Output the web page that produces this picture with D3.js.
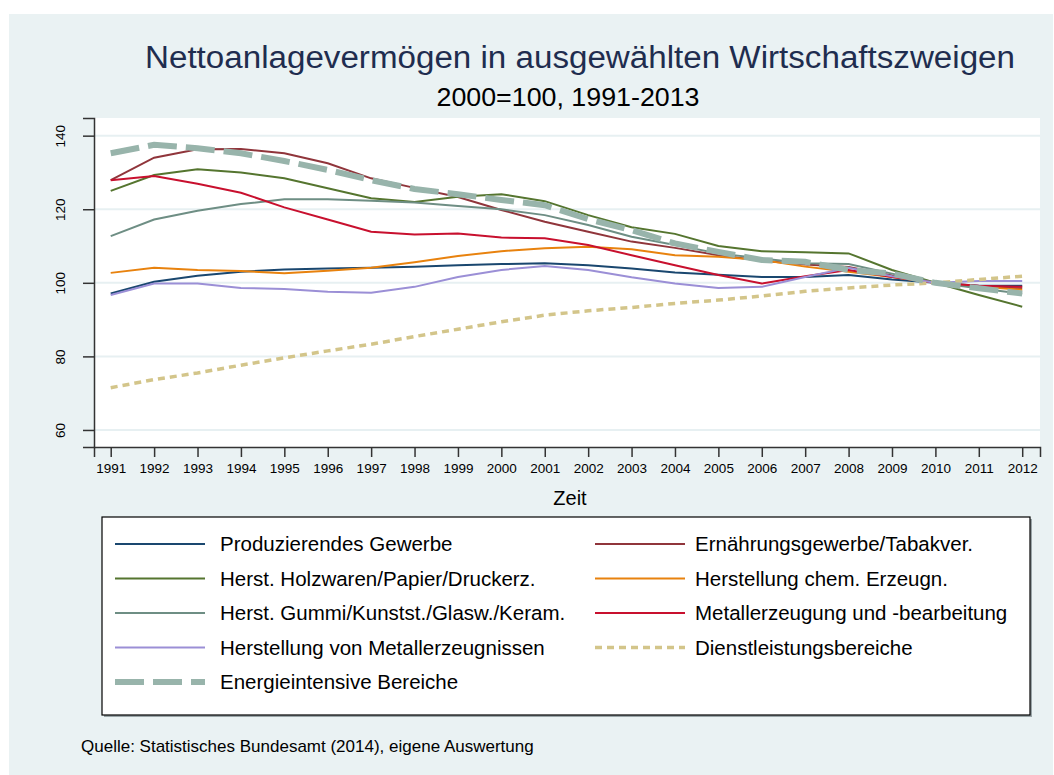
<!DOCTYPE html>
<html>
<head>
<meta charset="utf-8">
<script src="https://cdnjs.cloudflare.com/ajax/libs/d3/7.8.5/d3.min.js"></script>
<style>
  body { margin: 0; background: #ffffff; }
  svg { font-family: "Liberation Sans", Arial, sans-serif; display: block; }
</style>
</head>
<body>
<div id="chart"></div>
<script>
// Data
var years = [1991, 1992, 1993, 1994, 1995, 1996, 1997, 1998, 1999, 2000, 2001,
             2002, 2003, 2004, 2005, 2006, 2007, 2008, 2009, 2010, 2011, 2012];
var yTicks = [60, 80, 100, 120, 140];

var produzierendes = [97.1, 100.3, 101.9, 103.0, 103.6, 103.9, 104.1, 104.4, 104.8, 105.1, 105.3,
                      104.8, 103.9, 102.8, 102.2, 101.6, 101.6, 102.1, 100.9, 100, 99.2, 99.2];
var ernaehrung = [127.9, 134.0, 136.3, 136.4, 135.2, 132.5, 128.4, 125.8, 123.3, 119.8, 116.6,
                  113.9, 111.2, 109.5, 107.5, 106.0, 105.0, 104.3, 102.0, 100, 98.8, 98.5];
var holzwaren = [125.0, 129.3, 130.9, 130.0, 128.4, 125.7, 123.0, 122.0, 123.4, 124.1, 122.2,
                 118.4, 115.1, 113.3, 110.0, 108.6, 108.3, 108.0, 103.5, 100, 96.7, 93.5];
var chemie = [102.7, 104.1, 103.5, 103.2, 102.6, 103.3, 104.1, 105.6, 107.3, 108.6, 109.4,
              109.8, 109.1, 107.5, 107.1, 106.2, 104.4, 103.0, 101.6, 100, 99.0, 98.1];
var gummi = [112.7, 117.2, 119.6, 121.4, 122.7, 122.7, 122.3, 121.8, 120.9, 120.0, 118.4,
             115.7, 112.5, 110.3, 108.0, 106.6, 105.3, 105.1, 102.5, 100, 98.5, 97.0];
var metallerzeugung = [127.9, 129.0, 126.9, 124.5, 120.5, 117.2, 113.9, 113.1, 113.4, 112.3, 112.1,
                       110.3, 107.5, 104.8, 102.1, 99.8, 101.8, 103.5, 101.6, 100, 99.2, 98.9];
var metallerzeugnisse = [96.7, 99.8, 99.8, 98.6, 98.3, 97.6, 97.3, 98.9, 101.6, 103.5, 104.6,
                         103.5, 101.5, 99.8, 98.6, 98.9, 101.6, 104.1, 101.8, 100, 100.5, 100.5];
var dienstleistung = [71.5, 73.7, 75.5, 77.6, 79.6, 81.5, 83.3, 85.4, 87.4, 89.4, 91.2,
                      92.4, 93.3, 94.4, 95.3, 96.4, 97.7, 98.6, 99.4, 100, 100.9, 101.8];
var energie = [135.2, 137.5, 136.6, 135.2, 133.1, 130.7, 127.9, 125.5, 124.1, 122.5, 121.1,
               117.3, 114.3, 110.7, 108.4, 106.2, 105.7, 103.5, 102.5, 100, 98.5, 97.1];

var seriesNames = ["Produzierendes Gewerbe", "Ernährungsgewerbe/Tabakver.",
                   "Herst. Holzwaren/Papier/Druckerz.", "Herstellung chem. Erzeugn.",
                   "Herst. Gummi/Kunstst./Glasw./Keram.", "Metallerzeugung und -bearbeitung",
                   "Herstellung von Metallerzeugnissen", "Dienstleistungsbereiche",
                   "Energieintensive Bereiche"];
var seriesValues = [produzierendes, ernaehrung, holzwaren, chemie, gummi,
                    metallerzeugung, metallerzeugnisse, dienstleistung, energie];

// styles (stata s2color-ish)
var lineColors = ["#1a476f", "#90353b", "#55752f", "#e8820e", "#6e8e84",
                  "#c8102e", "#9b8fd6", "#d3c58a", "#98b4ab"];
var lineWidths = [2, 2, 2, 2, 2, 2, 2, 3.5, 6];
var lineDash = [null, null, null, null, null, null, null, "7,5", "29,9"];

var W = 1054, H = 775;
var plot = {left: 94, top: 118, right: 1040, bottom: 447};

var svg = d3.select("#chart").append("svg")
    .attr("width", W)
    .attr("height", H);

// outer graph region
svg.append("rect")
    .attr("x", 9).attr("y", 14)
    .attr("width", 1044).attr("height", H - 14)
    .style("fill", "#eaf2f3");

// plot region
svg.append("rect")
    .attr("x", plot.left).attr("y", plot.top)
    .attr("width", plot.right - plot.left).attr("height", plot.bottom - plot.top)
    .style("fill", "#ffffff");

var xScale = d3.scaleLinear()
    .domain([1990.615, 2012.41])
    .range([plot.left, plot.right]);

var yScale = d3.scaleLinear()
    .domain([55.37, 144.8])
    .range([plot.bottom, plot.top]);

// grid lines
svg.append("g")
  .selectAll("line")
  .data(yTicks)
  .enter().append("line")
    .attr("x1", plot.left).attr("x2", plot.right)
    .attr("y1", function(d) { return yScale(d); })
    .attr("y2", function(d) { return yScale(d); })
    .style("stroke", "#e7f0f2")
    .style("stroke-width", 2);

// titles
svg.append("text")
    .attr("x", 580).attr("y", 68)
    .attr("text-anchor", "middle")
    .attr("textLength", 870)
    .attr("lengthAdjust", "spacingAndGlyphs")
    .style("font-size", "31px")
    .style("fill", "#1f2d4f")
    .text("Nettoanlagevermögen in ausgewählten Wirtschaftszweigen");

svg.append("text")
    .attr("x", 568).attr("y", 106)
    .attr("text-anchor", "middle")
    .attr("textLength", 263)
    .attr("lengthAdjust", "spacingAndGlyphs")
    .style("font-size", "25px")
    .style("fill", "#000")
    .text("2000=100, 1991-2013");

// axes
var xAxis = svg.append("g")
    .attr("transform", "translate(0," + plot.bottom + ")")
    .call(d3.axisBottom(xScale)
          .tickValues(years)
          .tickFormat(d3.format("d"))
          .tickSize(10)
          .tickPadding(6));

var yAxis = svg.append("g")
    .attr("transform", "translate(" + plot.left + ",0)")
    .call(d3.axisLeft(yScale)
          .tickValues(yTicks)
          .tickSize(11)
          .tickPadding(0));

[xAxis, yAxis].forEach(function(ax) {
  ax.select(".domain").style("stroke", "#333").style("stroke-width", 1.5);
  ax.selectAll(".tick line").style("stroke", "#333").style("stroke-width", 1.5);
  ax.selectAll("text").style("font-size", "13.5px").style("fill", "#000")
    .style("font-family", "Liberation Sans, Arial, sans-serif");
});

// rotate y labels like stata
yAxis.selectAll(".tick text")
    .attr("x", 0).attr("dy", 0)
    .attr("transform", "translate(-29,0) rotate(-90)")
    .style("text-anchor", "middle");

svg.append("text")
    .attr("x", 570).attr("y", 505)
    .attr("text-anchor", "middle")
    .style("font-size", "20px")
    .text("Zeit");

// lines
var line_generator = d3.line()
    .x(function(d) { return xScale(d.x); })
    .y(function(d) { return yScale(d.y); });

seriesValues.forEach(function(vals, i) {
  var pts = vals.map(function(v, j) { return {x: years[j], y: v}; });
  svg.append("path")
    .datum(pts)
    .attr("d", line_generator)
    .style("fill", "none")
    .style("stroke", lineColors[i])
    .style("stroke-width", lineWidths[i])
    .style("stroke-dasharray", lineDash[i]);
});

// legend box
var lg = {x: 102, y: 517, w: 928, h: 198};
svg.append("rect")
    .attr("x", lg.x + 2).attr("y", lg.y + 2)
    .attr("width", lg.w).attr("height", lg.h)
    .style("fill", "#9aa5a8");
svg.append("rect")
    .attr("x", lg.x).attr("y", lg.y)
    .attr("width", lg.w).attr("height", lg.h)
    .style("fill", "#fff")
    .style("stroke", "#000")
    .style("stroke-width", 1.2);

var rowY = [544, 578.5, 613, 647.5, 682];
var colX = [115, 595];

seriesNames.forEach(function(name, i) {
  var col = i % 2, row = Math.floor(i / 2);
  var lx = colX[col], ly = rowY[row];
  svg.append("line")
    .attr("x1", lx).attr("x2", lx + 90)
    .attr("y1", ly).attr("y2", ly)
    .style("stroke", lineColors[i])
    .style("stroke-width", lineWidths[i])
    .style("stroke-dasharray", lineDash[i]);
  svg.append("text")
    .attr("x", lx + (col == 0 ? 105 : 100)).attr("y", ly + 7)
    .style("font-size", "20.5px")
    .text(name);
});

// source note
svg.append("text")
    .attr("x", 81).attr("y", 752)
    .style("font-size", "17px")
    .text("Quelle: Statistisches Bundesamt (2014), eigene Auswertung");
</script>
</body>
</html>
